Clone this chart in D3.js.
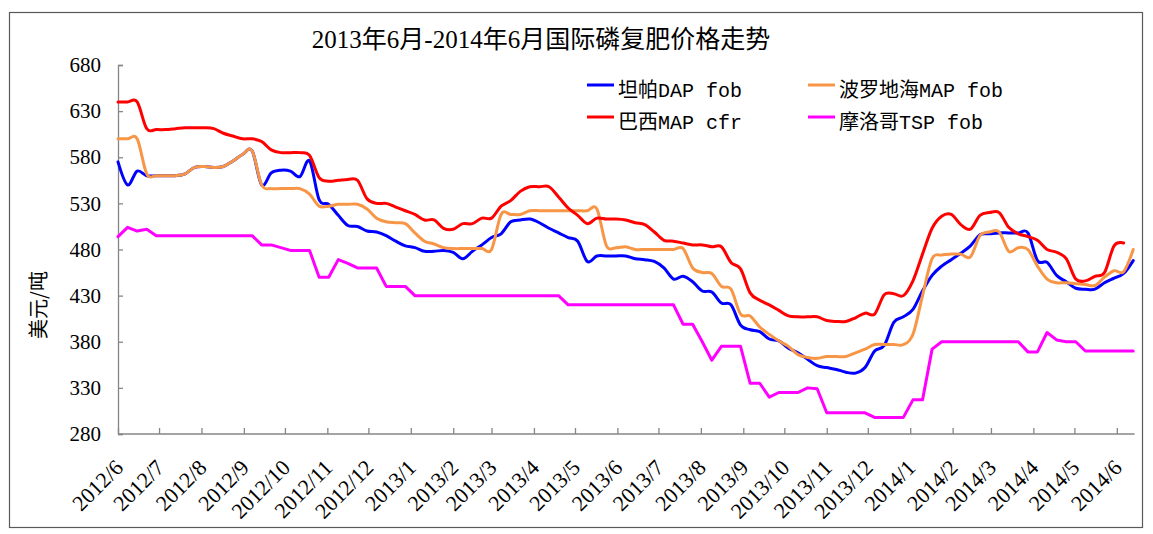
<!DOCTYPE html>
<html><head><meta charset="utf-8">
<script src="https://cdn.jsdelivr.net/npm/d3@7"></script>
<style>body{margin:0;background:#fff}svg{display:block}</style>
</head><body><svg id="c" width="1153" height="534"></svg>
<script>
// ---- data ----
const title = "2013年6月-2014年6月国际磷复肥价格走势";
const yLabel = "美元/吨";
const startDate = "2012-06-01";   // first weekly observation
const endDate = "2014-06-14";     // right end of the date axis
const monthLabels = ["2012/6","2012/7","2012/8","2012/9","2012/10","2012/11","2012/12","2013/1","2013/2","2013/3","2013/4","2013/5","2013/6","2013/7","2013/8","2013/9","2013/10","2013/11","2013/12","2014/1","2014/2","2014/3","2014/4","2014/5","2014/6"];
const yTicks = [280,330,380,430,480,530,580,630,680];
const seriesNames = ["坦帕DAP fob","波罗地海MAP fob","巴西MAP cfr","摩洛哥TSP fob"];
// weekly prices, USD/t
const tampaDAP = [575,550,565,560,560,560,560,562,569,570,
  569,570,576,583,587,550,563,566,565,559,
  576,534,529,517,506,505,500,499,495,489,
  484,482,478,478,479,477,470,478,485,493,
  497,510,512,513,509,503,498,493,489,467,
  473,473,473,473,470,469,467,460,448,451,
  445,435,434,422,420,398,393,391,383,381,
  373,368,361,354,352,350,347,346,352,370,
  376,401,407,415,435,452,462,469,476,484,
  496,497,498,498,498,498,468,466,452,445,
  438,437,437,444,449,454,468];
const balticMAP = [600,600,600,562,560,560,560,562,569,570,
  569,570,576,583,587,550,546,546,546,546,
  540,527,527,529,529,529,524,514,510,509,
  508,498,489,486,482,481,481,481,481,480,
  518,518,518,522,522,522,522,522,522,522,
  524,484,482,483,480,480,480,480,480,481,
  460,455,454,440,437,410,408,396,388,381,
  375,366,363,362,364,364,364,368,372,377,
  377,377,377,388,430,470,474,475,475,472,
  495,499,499,478,482,480,462,448,444,444,
  443,442,441,450,457,456,480];
const brazilMAP = [640,640,640,611,610,610,611,612,612,612,
  611,606,603,600,600,597,588,585,585,585,
  582,558,554,555,556,555,535,530,530,526,
  522,518,512,512,503,502,508,508,514,514,
  527,533,543,548,548,548,537,525,517,508,
  514,513,513,512,509,507,499,490,489,487,
  485,485,483,483,466,459,433,425,420,414,
  408,407,407,407,403,402,402,406,411,410,
  431,432,430,446,475,503,516,518,507,502,
  517,520,520,504,497,494,490,480,477,470,
  448,446,451,455,484,487];
const moroccoTSP = [494,504,500,502,495,495,495,495,495,495,
  495,495,495,495,495,485,485,482,479,479,
  479,450,450,469,465,460,460,460,440,440,
  440,430,430,430,430,430,430,430,430,430,
  430,430,430,430,430,430,430,420,420,420,
  420,420,420,420,420,420,420,420,420,399,
  399,380,360,375,375,375,335,335,320,325,
  325,325,330,329,303,303,303,303,303,298,
  298,298,298,317,317,372,380,380,380,380,
  380,380,380,380,380,369,369,390,382,380,
  380,370,370,370,370,370,370];
const seriesColors = ["#0000FF","#F79646","#FF0000","#FF00FF"];

// ---- chart ----
const svg = d3.select("#c");
const parse = d3.utcParse("%Y-%m-%d");
const t0 = parse(startDate), t1 = parse(endDate);
const plotL = 118, plotR = 1134.6, plotT = 65, plotB = 434;
const x = d3.scaleUtc().domain([t0, t1]).range([plotL, plotR]);
const y = d3.scaleLinear().domain([280, 680]).range([plotB, plotT]);
const monthDates = monthLabels.map(s => { const [yy, mm] = s.split("/"); return new Date(Date.UTC(+yy, +mm - 1, 1)); });

const serif = "'Liberation Serif','Times New Roman','Noto Sans CJK SC',serif";
const mono = "'Liberation Mono','Noto Sans CJK SC',monospace";

// outer frame
svg.append("rect").attr("x", 9.5).attr("y", 12.5).attr("width", 1133).attr("height", 515)
  .attr("fill", "none").attr("stroke", "#595959").attr("stroke-width", 1.2);

// title
svg.append("text").attr("x", 541).attr("y", 48).attr("text-anchor", "middle")
  .attr("font-family", serif).attr("font-size", 25).attr("fill", "#000").text(title);

// y axis
const gy = svg.append("g").attr("transform", `translate(${plotL},0)`)
  .call(d3.axisLeft(y).tickValues(yTicks).tickSize(-5).tickPadding(17).tickFormat(d3.format("d")));
gy.selectAll("text").attr("font-family", serif).attr("font-size", 21).attr("fill", "#000");
gy.selectAll("line,path").attr("stroke", "#868686").attr("stroke-width", 1.3);

// x axis
const gx = svg.append("g").attr("transform", `translate(0,${plotB})`)
  .call(d3.axisBottom(x).tickValues(monthDates).tickSize(-6).tickFormat((d, i) => monthLabels[i]));
gx.selectAll("line,path").attr("stroke", "#868686").attr("stroke-width", 1.3);
gx.select("path").attr("d", `M${plotL},0H${plotR}`);
gx.selectAll("text").attr("font-family", serif).attr("font-size", 22).attr("fill", "#000")
  .attr("text-anchor", "end").attr("y", 0).attr("dy", 0)
  .attr("transform", "translate(6,35) rotate(-45)");

// y label
svg.append("text").attr("transform", "translate(46,305) rotate(-90)")
  .attr("text-anchor", "middle").attr("font-family", "'Noto Sans CJK SC',sans-serif")
  .attr("font-size", 20).attr("fill", "#000").text(yLabel);

// lines
const allSeries = [tampaDAP, balticMAP, brazilMAP, moroccoTSP];
const smooth = d3.line().x((d, i) => x(d3.utcDay.offset(t0, 7 * i))).y(d => y(d)).curve(d3.curveCatmullRom.alpha(0));
const straight = d3.line().x((d, i) => x(d3.utcDay.offset(t0, 7 * i))).y(d => y(d));
const drawOrder = [3, 0, 1, 2];
drawOrder.forEach(k => {
  svg.append("path").attr("d", (k === 3 ? straight : smooth)(allSeries[k]))
    .attr("fill", "none").attr("stroke", seriesColors[k]).attr("stroke-width", 3)
    .attr("stroke-linejoin", "round").attr("stroke-linecap", "round");
});

// legend
const legPos = [[587, 85], [808, 85], [587, 117], [808, 117]];
seriesNames.forEach((name, k) => {
  const [lx, ly] = legPos[k];
  svg.append("line").attr("x1", lx).attr("x2", lx + 27).attr("y1", ly).attr("y2", ly)
    .attr("stroke", seriesColors[k]).attr("stroke-width", 3);
  svg.append("text").attr("x", lx + 31).attr("y", ly + 12).attr("font-family", mono)
    .attr("font-size", 20).attr("fill", "#000").text(name);
});
</script></body></html>
